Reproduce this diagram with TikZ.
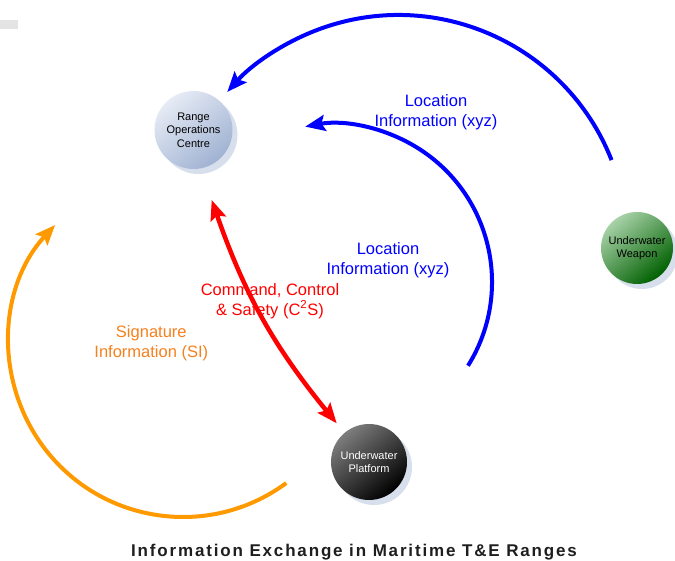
\documentclass[tikz,border=0pt]{standalone}
\usepackage{fontspec}
\setmainfont{Liberation Sans}
\newfontfamily\titlefont[LetterSpace=10.8]{Liberation Sans}
\usetikzlibrary{arrows.meta,calc}

\definecolor{rocLight}{RGB}{230,235,245}
\definecolor{rocDark}{RGB}{160,178,210}
\definecolor{wpnLight}{RGB}{168,210,168}
\definecolor{wpnMid}{RGB}{18,128,18}
\definecolor{wpnDark}{RGB}{0,96,0}
\definecolor{plfLight}{RGB}{125,125,125}
\definecolor{plfMid}{RGB}{12,12,12}
\definecolor{plfDark}{RGB}{0,0,0}
\definecolor{haloCol}{RGB}{216,223,236}
\definecolor{siArc}{RGB}{255,153,0}
\definecolor{siText}{RGB}{245,128,30}
\definecolor{titleCol}{RGB}{30,30,30}
\definecolor{tabCol}{RGB}{228,228,228}

\tikzset{
  >={Stealth[length=20pt,width=16pt,inset=3.5pt]},
  hub/.style={circle, inner sep=0pt, align=center,
    font=\fontsize{11}{13.5}\selectfont},
  halo/.style={fill=haloCol},
  flow/.style={line width=4pt, ->},
  lbl/.style={align=center, font=\fontsize{16.5}{19.5}\selectfont},
}

\begin{document}
\begin{tikzpicture}[x=1pt,y=1pt]
\useasboundingbox (0,0) rectangle (675,560);

% small grey tab in the corner
\fill[tabCol] (0,530.7) rectangle (17.7,540.3);

% centres of the three stations
\coordinate (rocC) at (193.5,430);
\coordinate (wpnC) at (637,312);
\coordinate (plfC) at (369,98);

% drop shadows
\fill[halo] ($(rocC)+(5,-5)$) circle[radius=39];
\fill[halo] ($(wpnC)+(5,-5)$) circle[radius=36];
\fill[halo] ($(plfC)+(5,-5)$) circle[radius=38];

% stations
\node[hub, minimum size=78pt, top color=rocLight, bottom color=rocDark,
      shading angle=40] (roc) at (rocC) {Range\\Operations\\Centre};
\node[hub, minimum size=72pt, top color=wpnLight, middle color=wpnMid,
      bottom color=wpnDark, shading angle=40] (wpn) at (wpnC) {Underwater\\Weapon};
\node[hub, minimum size=76pt, top color=plfLight, middle color=plfMid,
      bottom color=plfDark, shading angle=40, text=white] (plf) at (plfC)
      {Underwater\\Platform};

% outer location loop: weapon -> range centre
\coordinate (uA) at ($(398.5,316)+(21.5:229)$);
\draw[flow, blue] (uA) arc[start angle=21.5, end angle=138.4, radius=229];

% inner location loop: platform -> range centre
\coordinate (iA) at ($(334,278)+(-32:158)$);
\draw[flow, blue] (iA) arc[start angle=-32, end angle=100.5, radius=158];

% signature information loop
\coordinate (sA) at ($(183,217)+(-53.6:174)$);
\draw[flow, siArc] (sA) arc[start angle=-53.6, end angle=-222.7, radius=174];

% command, control and safety link
\coordinate (cTop) at (211.7,360);
\coordinate (cBot) at (336.7,136.7);
\draw[line width=4.5pt, red, <->] (cTop) to[bend right=10] (cBot);

% labels
\node[lbl, text=blue] (locOuter) at (436,448) {Location\\Information (xyz)};
\node[lbl, text=blue] (locInner) at (388,300) {Location\\Information (xyz)};
\node[lbl, text=red] (cmd) at (270,259) {Command, Control\\\& Safety (C\textsuperscript{2}S)};
\node[lbl, text=siText] (sig) at (151.3,216.7) {Signature\\Information (SI)};

% caption
\node[anchor=base, text=titleCol, inner sep=0pt,
      font=\fontsize{17}{20}\selectfont\titlefont\bfseries] (title) at (354,4)
      {Information Exchange in Maritime T\&E Ranges};
\end{tikzpicture}
\end{document}
